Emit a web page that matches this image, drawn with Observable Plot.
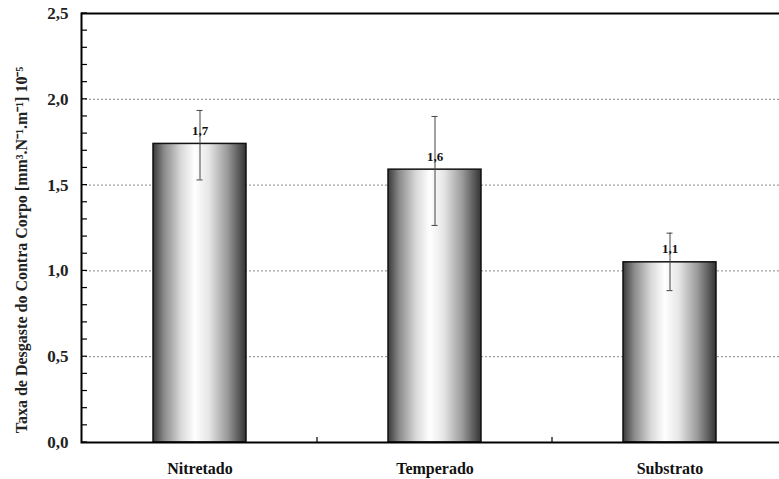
<!DOCTYPE html>
<html>
<head>
<meta charset="utf-8">
<script src="https://cdn.jsdelivr.net/npm/d3@7"></script>
<script src="https://cdn.jsdelivr.net/npm/@observablehq/plot@0.6"></script>
<style>
  html, body { margin: 0; padding: 0; background: #fff; overflow: hidden; }
  #chart { width: 779px; height: 479px; overflow: hidden; }
  #chart svg { max-width: none !important; }
  #chart svg, #chart svg text, #chart svg g { font-family: "Liberation Serif", "Times New Roman", serif !important; }
</style>
</head>
<body>
<div id="chart"></div>
<script>
const categories = ["Nitretado", "Temperado", "Substrato"];
const values = [1.74, 1.59, 1.05];
const errLow = [1.53, 1.265, 0.885];
const errHigh = [1.935, 1.90, 1.22];
const valueLabels = ["1,7", "1,6", "1,1"];
const yTicks = [0, 0.5, 1.0, 1.5, 2.0, 2.5];
const yTickLabels = ["0,0", "0,5", "1,0", "1,5", "2,0", "2,5"];
const yGrid = [0.5, 1.0, 1.5, 2.0];
const yMinorStep = 0.1;
const yLabel = "Taxa de Desgaste do Contra Corpo [mm³.N⁻¹.m⁻¹] 10⁻⁵";

const data = categories.map((c, i) => ({
  cat: c, value: values[i], lo: errLow[i], hi: errHigh[i], label: valueLabels[i]
}));
const minorTicks = d3.range(0, 2.5 + 1e-9, yMinorStep).map(v => +v.toFixed(2));

const gradientDefs = () => {
  const defs = d3.create("svg:defs");
  const g = defs.append("linearGradient").attr("id", "barGrad")
    .attr("x1", "0%").attr("x2", "100%").attr("y1", "0%").attr("y2", "0%");
  [[0, "#3a3a3a"], [0.12, "#8a8a8a"], [0.3, "#d8d8d8"], [0.45, "#ffffff"],
   [0.6, "#e6e6e6"], [0.8, "#9a9a9a"], [1, "#333333"]]
    .forEach(([o, c]) => g.append("stop").attr("offset", o).attr("stop-color", c));
  return defs.node();
};

// inward minor ticks on the left axis and inner ticks between categories on bottom axis
const innerTicks = (index, scales, values, dims) => {
  const g = d3.create("svg:g").attr("stroke", "#000").attr("stroke-width", 1.2);
  const x0 = dims.marginLeft;
  minorTicks.forEach(v => {
    g.append("line").attr("x1", x0).attr("x2", x0 + 6)
      .attr("y1", scales.y(v)).attr("y2", scales.y(v));
  });
  const step = scales.x.step ? scales.x.step() : 0;
  const yb = scales.y(0);
  categories.slice(0, -1).forEach(c => {
    const xc = scales.x(c) + scales.x.bandwidth() / 2 + step / 2;
    g.append("line").attr("x1", xc).attr("x2", xc).attr("y1", yb).attr("y2", yb - 5);
  });
  return g.node();
};

const W = 800, ML = 81;
const plot = Plot.plot({
  width: W,
  height: 479,
  marginLeft: ML,
  marginRight: 13,
  marginTop: 13,
  marginBottom: 37,
  style: { fontFamily: "'Liberation Serif', serif", background: "#fff", maxWidth: "none" },
  x: { domain: categories, paddingInner: 0.605, paddingOuter: 0.3025, label: null },
  y: { domain: [0, 2.5], label: null },
  marks: [
    gradientDefs,
    Plot.gridY(yGrid, { stroke: "#888", strokeOpacity: 1, strokeDasharray: "2,2", strokeWidth: 1 }),
    Plot.barY(data, { x: "cat", y: "value", fill: "url(#barGrad)", stroke: "#111", strokeWidth: 1.5 }),
    Plot.ruleX(data, { x: "cat", y1: "lo", y2: "hi", stroke: "#444", strokeWidth: 1 }),
    Plot.tickY(data, { x: "cat", y: "lo", stroke: "#444", strokeWidth: 1, insetLeft: 43.5, insetRight: 43.5 }),
    Plot.tickY(data, { x: "cat", y: "hi", stroke: "#444", strokeWidth: 1, insetLeft: 43.5, insetRight: 43.5 }),
    Plot.text(data, { x: "cat", y: "value", text: "label", dy: -13, fontSize: 13, fontWeight: "bold", fill: "#111" }),
    Plot.axisY(yTicks, { tickSize: 0, tickPadding: 13, tickFormat: (d, i) => yTickLabels[i], fontSize: 17, fontWeight: "bold", fill: "#222", label: null }),
    Plot.axisX({ tickSize: 0, tickPadding: 20, fontSize: 16, fontWeight: "bold", fill: "#111", label: null }),
    Plot.frame({ stroke: "#000", strokeWidth: 2 }),
    innerTicks
  ]
});

// y-axis title as rotated real text
const svg = d3.select(plot);
svg.append("text")
  .attr("transform", `translate(27, 250) rotate(-90)`)
  .attr("text-anchor", "middle")
  .attr("font-size", 16)
  .attr("font-weight", "bold")
  .attr("fill", "#222")
  .text(yLabel);

document.getElementById("chart").appendChild(plot);
</script>
</body>
</html>
